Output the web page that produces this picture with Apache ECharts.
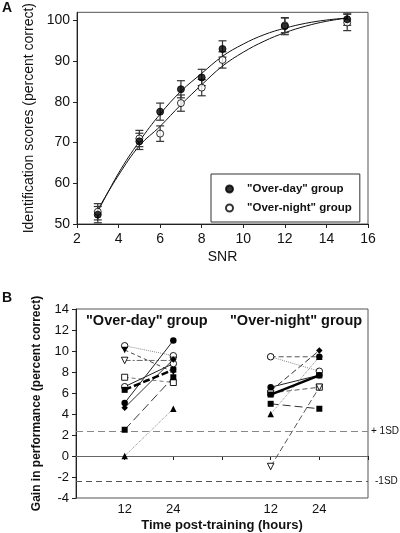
<!DOCTYPE html>
<html><head><meta charset="utf-8">
<script src="https://cdn.jsdelivr.net/npm/echarts@6/dist/echarts.min.js"></script>
<style>html,body{margin:0;padding:0;background:#fff}#c{width:400px;height:533px}</style>
</head><body><div id="c"></div>
<script>
// ---------- Panel A data ----------
const snr = [3, 5, 6, 7, 8, 9, 12, 15];
const overDayScore = [52.3, 70.3, 77.6, 83.1, 86.0, 93.0, 98.6, 100.3];
const overDayErr = [2.0, 2.0, 2.1, 2.1, 2.0, 2.0, 2.1, 1.5];
const overNightScore = [53.0, 71.0, 72.2, 79.7, 83.5, 90.3, 98.8, 99.5];
const overNightErr = [2.0, 2.0, 1.9, 2.0, 2.0, 2.0, 1.8, 2.0];
const fitSnr = [3, 4, 5, 6, 7, 8, 9, 10, 11, 12, 13, 14, 15];
const overDayFit = [53.0, 62.5, 70.3, 77.0, 82.6, 87.0, 91.2, 94.2, 96.5, 98.1, 99.3, 100.1, 100.6];
const overNightFit = [53.5, 62.0, 69.2, 74.0, 79.3, 84.2, 88.8, 92.2, 94.9, 97.0, 98.6, 99.8, 100.6];
const groupNames = ['"Over-day" group', '"Over-night" group'];

// ---------- Panel B data ----------
const timeTicks = ['12', '24'];
const dayAt12 = [10.5, 10.1, 9.1, 7.5, 6.6, 6.3, 5.05, 4.6, 2.5, 0.0];
const dayAt24 = [9.55, 8.0, 9.1, 7.0, 8.8, 8.22, 11.0, 9.2, 7.5, 4.5];
const nightAt12 = [9.45, 9.45, 6.2, 6.55, 5.85, 6.0, 4.97, 4.0, -1.0];
const nightAt24 = [9.45, 8.07, 10.05, 7.7, 7.68, 6.55, 4.5, 9.45, 6.55];
const sdBands = [2.4, -2.4];
const sdLabels = ['+ 1SD', '-1SD'];

// ---------- styles (separate from data) ----------
const DOWN = 'path://M0,0L10,0L5,9Z';
const dayStyle = [
  {sym:'circle', open:true, type:'dotted', w:1, c:'#888'},
  {sym:DOWN, open:false, type:[4,3], w:1, c:'#444'},
  {sym:DOWN, open:true, type:[6,2,2,2], w:1, c:'#666'},
  {sym:'rect', open:true, type:[4,3], w:1, c:'#777'},
  {sym:'circle', open:true, type:'solid', w:1, c:'#222'},
  {sym:'rect', open:false, type:[7,3], w:2.5, c:'#000'},
  {sym:'circle', open:false, type:'solid', w:1, c:'#222'},
  {sym:'diamond', open:false, type:'solid', w:1, c:'#333'},
  {sym:'rect', open:false, type:[9,4], w:1, c:'#333'},
  {sym:'triangle', open:false, type:'dotted', w:1, c:'#888'}
];
const nightStyle = [
  {sym:'circle', open:false, type:[5,3], w:1, c:'#555'},
  {sym:'circle', open:true, type:'dotted', w:1, c:'#888'},
  {sym:'diamond', open:false, type:[6,3], w:1, c:'#333'},
  {sym:'circle', open:false, type:'solid', w:1, c:'#222'},
  {sym:'rect', open:false, type:'solid', w:2.5, c:'#000'},
  {sym:'rect', open:true, type:[5,3], w:1, c:'#555'},
  {sym:'rect', open:false, type:[8,4], w:1, c:'#333'},
  {sym:'triangle', open:false, type:'dotted', w:1, c:'#888'},
  {sym:DOWN, open:true, type:[6,3], w:1, c:'#555'}
];

const FONT = '"Liberation Sans", Arial, sans-serif';
const chart = echarts.init(document.getElementById('c'), null, {renderer:'canvas'});

function errSeries(scores, errs) {
  return {
    type: 'custom', xAxisIndex: 0, yAxisIndex: 0, z: 3, silent: true,
    data: snr.map((s, i) => [s, scores[i] - errs[i], scores[i] + errs[i]]),
    renderItem: function (params, api) {
      const lo = api.coord([api.value(0), api.value(1)]);
      const hi = api.coord([api.value(0), api.value(2)]);
      const h = 4;
      const st = {stroke:'#333', lineWidth:1.2};
      return {type:'group', children:[
        {type:'line', shape:{x1:lo[0], y1:lo[1], x2:hi[0], y2:hi[1]}, style:st},
        {type:'line', shape:{x1:lo[0]-h, y1:lo[1], x2:lo[0]+h, y2:lo[1]}, style:st},
        {type:'line', shape:{x1:hi[0]-h, y1:hi[1], x2:hi[0]+h, y2:hi[1]}, style:st}
      ]};
    }
  };
}

const series = [
  {type:'line', xAxisIndex:0, yAxisIndex:0, data: fitSnr.map((s,i)=>[s, overDayFit[i]]), smooth:0.4, symbol:'none', lineStyle:{color:'#111', width:1}, z:2, silent:true},
  {type:'line', xAxisIndex:0, yAxisIndex:0, data: fitSnr.map((s,i)=>[s, overNightFit[i]]), smooth:0.4, symbol:'none', lineStyle:{color:'#111', width:1}, z:2, silent:true},
  errSeries(overNightScore, overNightErr),
  errSeries(overDayScore, overDayErr),
  {name: groupNames[1], type:'scatter', xAxisIndex:0, yAxisIndex:0, data: snr.map((s,i)=>[s, overNightScore[i]]), symbol:'circle', symbolSize:7, itemStyle:{color:'#fff', borderColor:'#000', borderWidth:1}, z:5},
  {name: groupNames[0], type:'scatter', xAxisIndex:0, yAxisIndex:0, data: snr.map((s,i)=>[s, overDayScore[i]]), symbol:'circle', symbolSize:7, itemStyle:{color:'#000', borderColor:'#000', borderWidth:1}, z:6}
];

function subjectSeries(a12, a24, styles, x12, x24) {
  return a12.map((v, i) => {
    const st = styles[i];
    return {
      type:'line', xAxisIndex:1, yAxisIndex:1, silent:true,
      data: [[x12, v], [x24, a24[i]]],
      symbol: st.sym, symbolSize: st.sym === 'rect' ? 6 : 6.5,
      showAllSymbol: true,
      lineStyle: {color: st.c, width: st.w, type: st.type},
      itemStyle: {color: st.open ? '#fff' : '#000', borderColor:'#000', borderWidth: st.open ? 0.9 : 0},
      z: st.w > 2 ? 8 : 5
    };
  });
}

// reference lines for panel B
series.push({
  type:'line', xAxisIndex:1, yAxisIndex:1, data:[], silent:true,
  markLine: {
    silent:true, symbol:'none', label:{show:false},
    data: [
      {yAxis: 0, lineStyle:{color:'#666', type:'solid', width:1}},
      {yAxis: sdBands[0], lineStyle:{color:'#888', type:[7,4], width:1.2}},
      {yAxis: sdBands[1], lineStyle:{color:'#555', type:[6,4], width:1}}
    ]
  }
});
series.push(...subjectSeries(dayAt12, dayAt24, dayStyle, 1, 2));
series.push(...subjectSeries(nightAt12, nightAt24, nightStyle, 4, 5));

const tickLabelMap = {1: timeTicks[0], 2: timeTicks[1], 4: timeTicks[0], 5: timeTicks[1]};

chart.setOption({
  animation: false,
  textStyle: {fontFamily: FONT},
  grid: [
    {left:77, top:8, width:291, height:216, show:true, borderColor:'#555', borderWidth:1, backgroundColor:'transparent'},
    {left:76, top:309, width:292, height:190, show:true, borderColor:'#555', borderWidth:1, backgroundColor:'transparent'}
  ],
  xAxis: [
    {type:'value', gridIndex:0, min:2, max:16, interval:2,
     name:'SNR', nameLocation:'middle', nameGap:26, nameTextStyle:{fontSize:14, color:'#111', fontFamily:FONT},
     axisLine:{lineStyle:{color:'#222'}}, axisTick:{length:4, lineStyle:{color:'#222'}},
     axisLabel:{fontSize:14, color:'#111', margin:8, fontFamily:FONT}, splitLine:{show:false}},
    {type:'value', gridIndex:1, min:0, max:6, interval:1,
     name:'Time post-training (hours)', nameLocation:'middle', nameGap:21,
     nameTextStyle:{fontSize:13, fontWeight:'bold', color:'#111', fontFamily:FONT},
     axisLine:{lineStyle:{color:'#222'}}, axisTick:{length:4, lineStyle:{color:'#222'}},
     axisLabel:{fontSize:13, color:'#111', margin:5, fontFamily:FONT, formatter: v => tickLabelMap[v] || ''},
     splitLine:{show:false}}
  ],
  yAxis: [
    {type:'value', gridIndex:0, min:50, max:102, interval:10,
     name:'Identification scores (percent correct)', nameLocation:'middle', nameGap:36, nameRotate:90,
     nameTextStyle:{fontSize:14, color:'#111', fontFamily:FONT},
     axisLine:{show:true, lineStyle:{color:'#222'}}, axisTick:{show:true, length:4, lineStyle:{color:'#222'}},
     axisLabel:{fontSize:14, color:'#111', margin:7, fontFamily:FONT, showMaxLabel:false, formatter: v => (v % 10 === 0 ? String(v) : '')},
     splitLine:{show:false}},
    {type:'value', gridIndex:1, min:-4, max:14, interval:2,
     name:'Gain in performance (percent correct)', nameLocation:'middle', nameGap:33, nameRotate:90,
     nameTextStyle:{fontSize:12, fontWeight:'bold', color:'#111', fontFamily:FONT},
     axisLine:{show:true, lineStyle:{color:'#222'}}, axisTick:{show:true, length:4, lineStyle:{color:'#222'}},
     axisLabel:{fontSize:13, color:'#111', margin:7, fontFamily:FONT},
     splitLine:{show:false}}
  ],
  legend: {
    data: groupNames, left:211, top:174, orient:'vertical',
    borderColor:'#333', borderWidth:1, padding:[9,8,8,14], itemGap:7,
    itemWidth:7, itemHeight:7, selectedMode:false,
    textStyle:{fontSize:11.5, fontWeight:'bold', color:'#111', fontFamily:FONT, padding:[0,0,0,9]}
  },
  graphic: [
    {type:'text', left:2, top:1, style:{text:'A', font:'bold 14px ' + FONT, fill:'#111'}},
    {type:'text', left:2, top:291, style:{text:'B', font:'bold 14px ' + FONT, fill:'#111'}},
    {type:'text', left:86, top:313, style:{text:groupNames[0], font:'bold 14.5px ' + FONT, fill:'#111'}},
    {type:'text', left:230, top:313, style:{text:groupNames[1], font:'bold 14.5px ' + FONT, fill:'#111'}},
    {type:'text', left:371, top:426, style:{text:sdLabels[0], font:'10px ' + FONT, fill:'#111'}},
    {type:'text', left:375, top:476, style:{text:sdLabels[1], font:'10px ' + FONT, fill:'#111'}}
  ],
  series: series
});
</script>
</body></html>
